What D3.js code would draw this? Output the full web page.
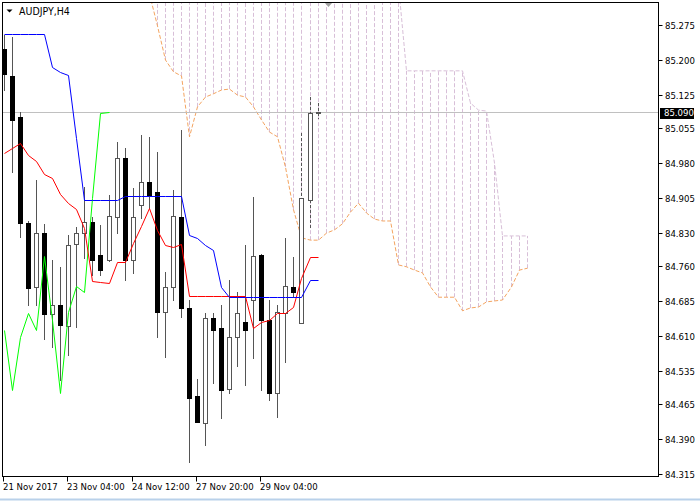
<!DOCTYPE html>
<html><head><meta charset="utf-8">
<script src="https://cdn.jsdelivr.net/npm/d3@7/dist/d3.min.js"></script>
<style>
body{margin:0;background:#fff;overflow:hidden;}
svg{display:block;}
text{font-family:"DejaVu Sans Condensed","DejaVu Sans",sans-serif;font-stretch:condensed;}
</style></head><body>
<svg id="c" width="700" height="501"></svg>
<script>
// ---------------- data ----------------
const symbol = "AUDJPY,H4";
const lastPrice = 85.090;
const priceTicks = [85.275,85.200,85.125,85.055,84.980,84.905,84.830,84.760,84.685,84.610,84.535,84.465,84.390,84.315];
const timeTickLabels = ["21 Nov 2017","23 Nov 04:00","24 Nov 12:00","27 Nov 20:00","29 Nov 04:00"];
const timeTickBars = [0,8,16,24,32];

const open  = [85.224,85.166,85.078,84.852,84.715,84.830,84.657,84.676,84.631,84.807,84.830,84.854,84.783,84.773,84.865,84.991,84.773,84.890,84.939,84.918,84.661,84.715,84.865,84.670,84.482,84.424,84.649,84.627,84.497,84.608,84.640,84.687,84.783,84.644,84.488,84.659,84.715,84.638,84.901,85.087];
const high  = [85.254,85.249,85.089,84.856,84.944,84.850,84.773,84.758,84.826,84.843,84.929,84.865,84.847,84.912,85.025,85.012,84.927,85.040,85.036,85.004,84.747,84.922,85.051,84.687,84.518,84.659,84.659,84.676,84.730,84.704,84.805,84.907,84.785,84.687,84.676,84.820,84.779,85.044,85.121,85.108];
const low   = [85.136,84.961,84.822,84.676,84.676,84.604,84.587,84.516,84.569,84.629,84.777,84.741,84.741,84.770,84.830,84.730,84.745,84.862,84.884,84.608,84.565,84.687,84.651,84.341,84.426,84.377,84.510,84.435,84.488,84.546,84.505,84.563,84.495,84.473,84.437,84.555,84.693,84.638,84.843,85.076];
const close = [85.170,85.072,84.852,84.713,84.830,84.657,84.676,84.634,84.805,84.830,84.854,84.773,84.751,84.867,84.991,84.773,84.865,84.939,84.912,84.661,84.715,84.867,84.670,84.478,84.426,84.649,84.623,84.495,84.608,84.659,84.623,84.781,84.644,84.488,84.661,84.717,84.704,84.905,85.087,85.090];

// Ichimoku lines (bar 0 = first visible bar)
const tenkan = [85.001,85.012,85.023,84.997,84.984,84.956,84.948,84.914,84.894,84.882,84.841,84.728,84.726,84.723,84.768,84.768,84.809,84.845,84.884,84.837,84.805,84.800,84.807,84.696,84.696,84.696,84.696,84.696,84.696,84.696,84.696,84.627,84.640,84.644,84.659,84.659,84.672,84.734,84.779,84.779];
const kijun  = [85.256,85.256,85.256,85.256,85.256,85.256,85.185,85.175,85.168,85.033,84.901,84.901,84.901,84.901,84.901,84.909,84.909,84.909,84.909,84.909,84.909,84.909,84.909,84.826,84.820,84.805,84.794,84.715,84.693,84.693,84.693,84.693,84.693,84.693,84.693,84.693,84.693,84.693,84.730,84.730];
const chikou = [84.623,84.495,84.608,84.659,84.623,84.781,84.644,84.488,84.661,84.717,84.704,84.905,85.087,85.090];
const spanStart = 18; // first bar of the span arrays
const spanA = [85.341,85.273,85.200,85.175,85.166,85.036,85.100,85.121,85.128,85.136,85.138,85.125,85.121,85.100,85.072,85.046,85.036,84.971,84.880,84.820,84.815,84.815,84.830,84.837,84.850,84.875,84.894,84.873,84.860,84.856,84.856,84.762,84.758,84.751,84.745,84.715,84.693,84.693,84.693,84.664,84.670,84.672,84.683,84.685,84.687,84.715,84.751,84.755];
const spanB = [85.360,85.360,85.360,85.360,85.360,85.360,85.360,85.360,85.360,85.360,85.360,85.360,85.360,85.360,85.360,85.360,85.360,85.360,85.360,85.360,85.360,85.360,85.360,85.360,85.360,85.360,85.360,85.360,85.360,85.360,85.360,85.360,85.177,85.177,85.177,85.177,85.177,85.177,85.177,85.177,85.108,85.093,85.091,84.980,84.824,84.824,84.824,84.824];

// ---------------- layout ----------------
const L = 2.5, T = 2.5, R = 658.5, B = 476.5;
const svg = d3.select("#c");
const y = d3.scaleLinear().domain([84.315, 85.275]).range([474, 25]);
const x = d3.scaleLinear().domain([0, 65]).range([4, 526.6]);
const px = i => Math.round(x(i));
const py = v => Math.round(y(v));

svg.append("defs").append("clipPath").attr("id","plot")
  .append("rect").attr("x",L+0.5).attr("y",T+0.5).attr("width",R-L-1).attr("height",B-T-1);
const g = svg.append("g").attr("clip-path","url(#plot)");

// cloud hatch
const spanIdx = d3.range(spanA.length);
g.append("g").selectAll("line").data(spanIdx).join("line")
  .attr("x1", i => px(spanStart+i)+0.5).attr("x2", i => px(spanStart+i)+0.5)
  .attr("y1", i => y(spanA[i])).attr("y2", i => y(spanB[i]))
  .attr("stroke", i => spanB[i] > spanA[i] ? "#D8BFD8" : "#F4A460")
  .attr("stroke-width",1).attr("stroke-dasharray","4,2");

// span lines
const spanLine = arr => d3.line().x((d,i)=>px(spanStart+i)+0.5).y(d=>y(d))(arr);
g.append("path").attr("d", spanLine(spanB)).attr("fill","none").attr("stroke","#D8BFD8").attr("stroke-dasharray","4,2");
g.append("path").attr("d", spanLine(spanA)).attr("fill","none").attr("stroke","#F4A460").attr("stroke-dasharray","4,2");

// current price line
g.append("line").attr("x1",L).attr("x2",R).attr("y1",py(lastPrice)+0.5).attr("y2",py(lastPrice)+0.5)
  .attr("stroke","#C0C0C0");

// candles
const wickCol = "#555";
const bars = d3.range(open.length);
function inCloud(i, v){
  const k = i - spanStart;
  if (k < 0 || k >= spanA.length) return false;
  return v <= Math.max(spanA[k], spanB[k]) && v >= Math.min(spanA[k], spanB[k]);
}
const cg = g.append("g");
bars.forEach(i => {
  const cx = px(i) + 0.5;
  const top = Math.max(open[i], close[i]), bot = Math.min(open[i], close[i]);
  const dashed = inCloud(i, high[i]);
  cg.append("line").attr("x1",cx).attr("x2",cx).attr("y1",py(high[i])).attr("y2",py(top))
    .attr("stroke",wickCol).attr("stroke-dasharray", dashed ? "3,2" : null);
  cg.append("line").attr("x1",cx).attr("x2",cx).attr("y1",py(bot)).attr("y2",py(low[i])+1)
    .attr("stroke",wickCol).attr("stroke-dasharray", inCloud(i, low[i]) ? "3,2" : null);
  const bull = close[i] >= open[i];
  cg.append("rect").attr("x",cx-2).attr("width",4)
    .attr("y",py(top)+0.5).attr("height",Math.max(1, py(bot)-py(top)))
    .attr("fill", bull ? "#fff" : "#000").attr("stroke", bull ? wickCol : "#000");
});

// indicator lines
const lineGen = (arr, start) => d3.line().x((d,i)=>px(start+i)+0.5).y(d=>py(d)+0.5)(arr);
g.append("path").attr("d", lineGen(chikou,0)).attr("fill","none").attr("stroke","#00FF00");
g.append("path").attr("d", lineGen(tenkan,0)).attr("fill","none").attr("stroke","#FF0000");
g.append("path").attr("d", lineGen(kijun,0)).attr("fill","none").attr("stroke","#0000FF");

// frame
svg.append("rect").attr("x",L).attr("y",T).attr("width",R-L).attr("height",B-T)
  .attr("fill","none").attr("stroke","#000");

// right price axis
const ax = svg.append("g");
ax.selectAll("line").data(priceTicks).join("line")
  .attr("x1",R).attr("x2",R+4).attr("y1",d=>py(d)+0.5).attr("y2",d=>py(d)+0.5).attr("stroke","#000");
ax.selectAll("text").data(priceTicks).join("text")
  .attr("x",665).attr("y",d=>py(d)+4).attr("font-size","9.5px").attr("fill","#000")
  .text(d=>d.toFixed(3));
// last price label
svg.append("rect").attr("x",660).attr("y",py(lastPrice)-4).attr("width",34).attr("height",11).attr("fill","#000");
svg.append("text").attr("x",664).attr("y",py(lastPrice)+4).attr("font-size","9.5px").attr("fill","#fff")
  .text(lastPrice.toFixed(3));

// bottom time axis
const tx = svg.append("g");
tx.selectAll("line").data(timeTickBars).join("line")
  .attr("x1",d=>px(d)-0.5).attr("x2",d=>px(d)-0.5).attr("y1",B).attr("y2",B+5).attr("stroke","#000");
tx.selectAll("text").data(timeTickLabels).join("text")
  .attr("x",(d,i)=>px(timeTickBars[i])-1).attr("y",490).attr("font-size","9.5px").attr("fill","#000")
  .text(d=>d);

// title
svg.append("path").attr("d","M6.5,9.5 L12.5,9.5 L9.5,12.5 Z").attr("fill","#000");
svg.append("text").attr("x",19).attr("y",14.5).attr("font-size","10.5px").attr("fill","#000").text(symbol);

// chart shift marker
svg.append("path").attr("d","M325,3 L332,3 L328.5,7 Z").attr("fill","#A0A0A0");

// window frame
svg.append("line").attr("x1",0).attr("x2",700).attr("y1",499.5).attr("y2",499.5).attr("stroke","#B9D1EA").attr("stroke-width",2);
</script>
</body></html>
